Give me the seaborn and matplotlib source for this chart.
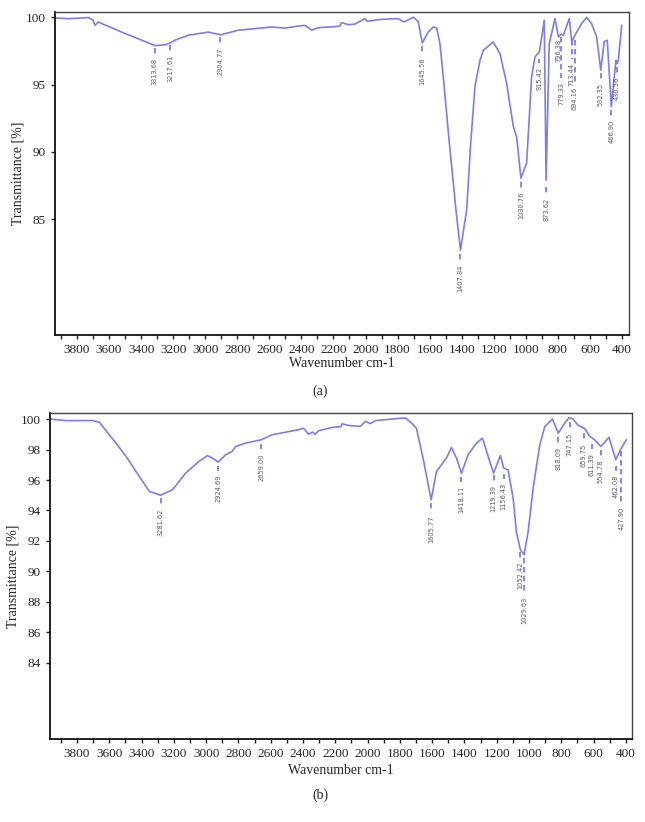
"""FTIR spectra (a) and (b), redrawn with seaborn."""
import matplotlib

matplotlib.use("Agg")
import matplotlib.pyplot as plt
import seaborn as sns

# ---- spectrum (a) ----
wn_a = [3937, 3850, 3729, 3700, 3688, 3667, 3640, 3604, 3521, 3417, 3313.68, 3251, 3217.61,
        3189, 3105, 2981, 2904.77, 2794, 2700, 2586, 2500, 2420, 2378, 2336, 2300, 2274,
        2200, 2160, 2149, 2106, 2066, 2004, 1990, 1900, 1796, 1760, 1702, 1672, 1645.56,
        1610, 1577, 1556, 1536, 1515, 1477, 1436, 1407.84, 1369, 1344, 1317, 1286, 1265,
        1203, 1161, 1120, 1078, 1057, 1030.76, 995, 964, 943, 915.42, 885, 873.62, 854,
        818, 796.38, 779.33, 766, 729, 713.44, 694.16, 652, 621, 590, 558, 532.35, 511,
        492, 466.90, 438, 430.56, 423, 402]
tr_a = [99.95, 99.9, 99.98, 99.8, 99.4, 99.65, 99.5, 99.33, 98.9, 98.4, 97.9, 97.95, 98.1,
        98.3, 98.67, 98.9, 98.7, 99.04, 99.15, 99.28, 99.2, 99.35, 99.4, 99.04, 99.2, 99.25,
        99.3, 99.35, 99.6, 99.45, 99.5, 99.9, 99.7, 99.85, 99.9, 99.65, 100.0, 99.7, 98.1,
        98.9, 99.28, 99.2, 98.05, 95.58, 90.64, 85.7, 82.7, 85.7, 90.64, 94.9, 96.8, 97.55,
        98.17, 97.3, 95.1, 91.9, 91.1, 88.05, 89.16, 95.58, 97.06, 97.43, 99.78, 87.9, 98.05,
        99.9, 98.54, 98.75, 98.67, 99.9, 98.17, 98.67, 99.53, 100.0, 99.53, 98.54, 96.07,
        98.2, 98.3, 93.36, 96.8, 96.55, 96.8, 99.4]
peaks_a = [3313.68, 3217.61, 2904.77, 1645.56, 1407.84, 1030.76, 915.42, 873.62, 796.38,
           779.33, 713.44, 694.16, 532.35, 466.90, 430.56]
text_top_a = [96.95, 97.2, 97.75, 97.05, 81.6, 87.05, 96.3, 86.6, 98.4,
              95.2, 96.6, 94.85, 95.1, 92.4, 95.6]
line_top_a = [97.7, 97.95, 98.55, 97.85, 82.4, 87.8, 96.9, 87.4, 98.7,
              98.5, 98.3, 98.3, 95.85, 93.1, 96.3]

# ---- spectrum (b) ----
wn_b = [3967, 3866, 3701, 3660, 3557, 3496, 3434, 3352, 3281.62, 3208, 3126, 3044, 2992,
        2961, 2924.69, 2879, 2838, 2817, 2756, 2659.00, 2591, 2427, 2396, 2365, 2340, 2324,
        2304, 2221, 2165, 2158, 2117, 2044, 2013, 1982, 1951, 1800, 1764, 1728, 1697, 1656,
        1605.77, 1573, 1542, 1511, 1480, 1449, 1418.11, 1377, 1325, 1288, 1243, 1219.39,
        1177, 1156.43, 1129, 1098, 1078, 1052.42, 1029.63, 1005, 974, 933, 902, 855, 818.09,
        778, 751, 727, 696, 654, 623, 593, 554.78, 504, 462.08, 427.90, 396]
tr_b = [100.0, 99.9, 99.9, 99.78, 98.4, 97.55, 96.56, 95.25, 95.0, 95.36, 96.46, 97.22,
        97.6, 97.44, 97.18, 97.66, 97.88, 98.2, 98.42, 98.64, 98.97, 99.3, 99.4, 99.0,
        99.15, 99.0, 99.23, 99.45, 99.5, 99.69, 99.58, 99.52, 99.85, 99.7, 99.9, 100.05,
        100.07, 99.74, 99.4, 97.44, 94.7, 96.56, 97.0, 97.44, 98.14, 97.44, 96.45, 97.66,
        98.42, 98.75, 97.22, 96.45, 97.6, 96.78, 96.67, 94.8, 92.6, 91.4, 91.1, 92.6, 95.47,
        98.3, 99.5, 100.0, 99.08, 99.74, 100.1, 100.0, 99.6, 99.37, 98.86, 98.64, 98.2,
        98.8, 97.33, 98.1, 98.64]
peaks_b = [3281.62, 2924.69, 2659.00, 1605.77, 1418.11, 1219.39, 1156.43, 1052.42, 1029.63,
           818.09, 747.15, 659.75, 611.39, 554.78, 462.08, 427.90]
text_top_b = [94.15, 96.35, 97.75, 93.7, 95.6, 95.7, 95.8, 90.65, 88.35,
              98.2, 99.1, 98.4, 97.75, 97.35, 96.35, 94.25]
line_top_b = [94.8, 96.95, 98.35, 94.5, 96.2, 96.3, 96.4, 91.3, 90.9,
              98.85, 99.8, 99.1, 98.35, 97.95, 96.95, 97.9]

LINE_COLOR = "#7b7fe6"
TEXT_COLOR = "#5a5a6e"

sns.set_theme(style="ticks")
plt.rcParams["font.family"] = ["Liberation Serif", "DejaVu Serif"]

fig = plt.figure(figsize=(6.45, 8.22), dpi=100)
ax_a = fig.add_axes([0.0853, 0.5925, 0.890, 0.393])
ax_b = fig.add_axes([0.0775, 0.101, 0.902, 0.3966])


def draw_panel(ax, wn, tr, peaks, text_top, line_top, xlim, ylim, yticks, xpad):
    sns.lineplot(x=wn, y=tr, sort=False, ax=ax, color=LINE_COLOR, lw=1.2)
    for p, tt, lt in zip(peaks, text_top, line_top):
        span = ylim[1] - ylim[0]
        ax.plot([p, p], [lt, tt + span * 0.012], color=LINE_COLOR, lw=1.3,
                linestyle=(0, (3, 2)))
        ax.text(p, tt, f"{p:.2f}", rotation=90, ha="center", va="top", fontsize=4.8,
                color=TEXT_COLOR, family=["DejaVu Sans"])
    ax.set_xlim(*xlim)
    ax.set_ylim(*ylim)
    ax.set_xticks(range(3800, 399, -200))
    ax.set_xticks(range(3900, 399, -100), minor=True)
    ax.set_yticks(yticks)
    ax.tick_params(axis="both", labelsize=9.5, length=3, width=1, color="#222222")
    ax.tick_params(axis="x", which="minor", length=3, width=1, color="#222222")
    for side in ("left", "bottom"):
        ax.spines[side].set_linewidth(1.3)
        ax.spines[side].set_color("#111111")
    for side in ("top", "right"):
        ax.spines[side].set_linewidth(1.0)
        ax.spines[side].set_color("#444444")
    ax.set_xlabel("Wavenumber cm-1", fontsize=10, labelpad=xpad)
    ax.set_ylabel("Transmittance [%]", fontsize=10, labelpad=1)


draw_panel(ax_a, wn_a, tr_a, peaks_a, text_top_a, line_top_a,
           (3937, 356), (76.4, 100.4), [85, 90, 95, 100], 1)
draw_panel(ax_b, wn_b, tr_b, peaks_b, text_top_b, line_top_b,
           (3967, 363), (79.0, 100.4), list(range(84, 101, 2)), 3)

fig.text(0.497, 1 - 391 / 822, "(a)", ha="center", va="center", fontsize=10)
fig.text(0.497, 1 - 795 / 822, "(b)", ha="center", va="center", fontsize=10)

fig.savefig("out.png", dpi=100)
plt.close(fig)
